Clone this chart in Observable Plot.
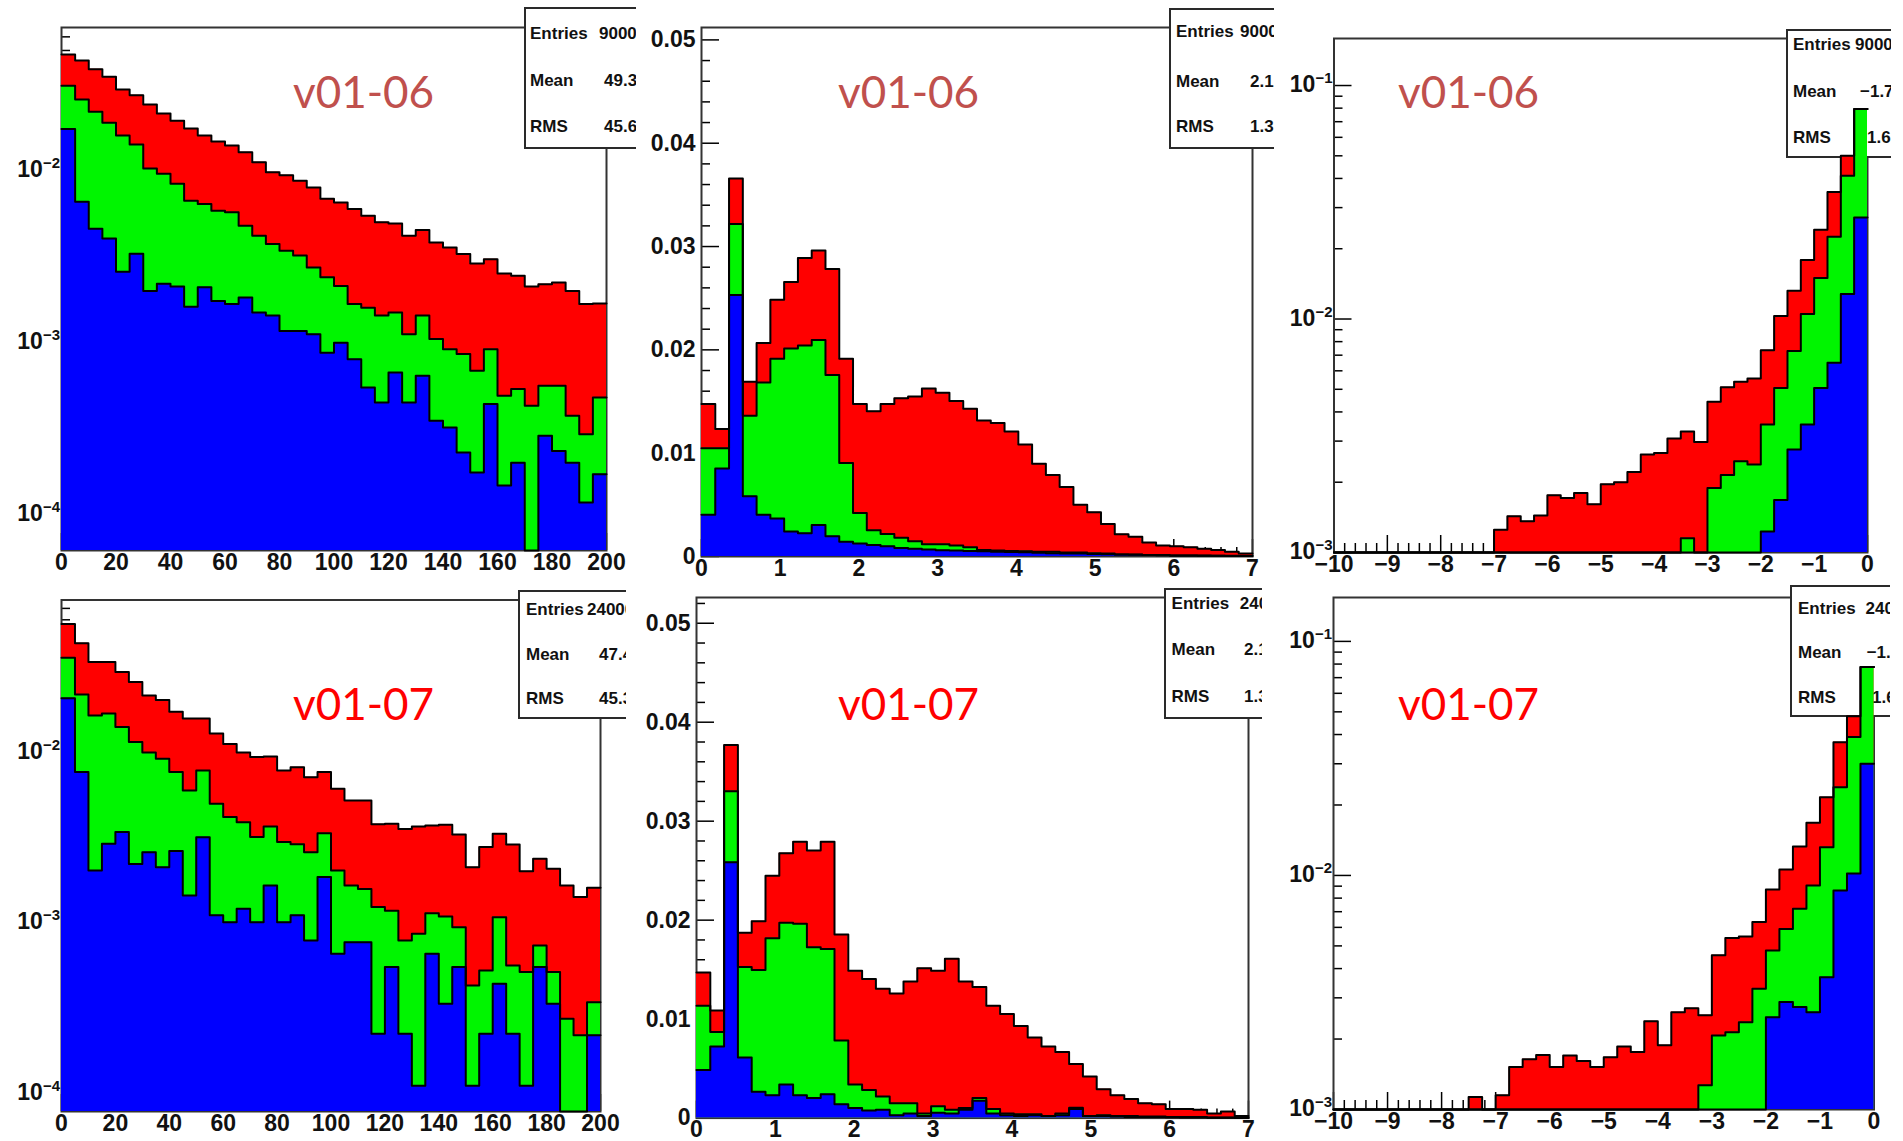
<!DOCTYPE html>
<html><head><meta charset="utf-8">
<script src="https://cdn.jsdelivr.net/npm/d3@7"></script>
<script src="https://cdn.jsdelivr.net/npm/@observablehq/plot@0.6"></script>
<style>
html,body{margin:0;padding:0;background:#fff;}
#root{position:relative;width:1903px;height:1141px;overflow:hidden;background:#fff;}
</style></head><body><div id="root"></div>
<script>
// ---------------- DATA (stack top levels: red = total, green = blue+green, blue) ----------------
// Panel 1: v01-06, x 0..200, 40 bins, log y
const p1Red = [0.0474,0.0437,0.0389,0.0352,0.0297,0.0275,0.0243,0.0215,0.0195,0.0176,
  0.016,0.0148,0.014,0.0128,0.0112,0.0098,0.0094,0.00875,0.008,0.00688,
  0.00654,0.00599,0.00547,0.00501,0.00494,0.00419,0.00452,0.00383,0.00358,0.00328,
  0.00289,0.00306,0.00253,0.00245,0.00212,0.00219,0.00224,0.002,0.00168,0.00169];
const p1Green = [0.0312,0.0259,0.022,0.019,0.016,0.0142,0.0103,0.0096,0.0084,0.0067,
  0.0064,0.00585,0.00573,0.00478,0.00419,0.00375,0.00343,0.00321,0.00274,0.0024,
  0.00214,0.00168,0.0016,0.00144,0.0015,0.00112,0.00144,0.00105,0.000918,0.000859,
  0.000687,0.000918,0.000492,0.000538,0.00043,0.000562,0.000562,0.000377,0.000294,0.000481];
const p1Blue = [0.0175,0.0066,0.0046,0.00403,0.00259,0.00329,0.002,0.0022,0.00212,0.00162,
  0.0021,0.00175,0.00168,0.00183,0.0015,0.00144,0.00117,0.00117,0.00112,0.000875,
  0.001,0.000803,0.00055,0.00045,0.000672,0.00045,0.000643,0.000352,0.000322,0.00023,
  0.000176,0.00044,0.000148,0.000201,0,0.000288,0.000235,0.000201,0.000118,0.000172];

// Panel 2: v01-06, x 0..7, 40 bins, linear y
const p2Red = [0.01477,0.01234,0.03659,0.01692,0.02067,0.02486,0.02657,0.0289,0.02961,0.02783,
  0.01913,0.01477,0.01406,0.01477,0.01531,0.01549,0.01627,0.01584,0.01506,0.01431,
  0.01316,0.01291,0.01209,0.01084,0.00898,0.0079,0.00672,0.00501,0.00429,0.00315,
  0.00215,0.0019,0.00136,0.00107,0.001,0.00089,0.00075,0.00064,0.00046,0.00029];
const p2Green = [0.01048,0.01048,0.03219,0.01363,0.01685,0.01913,0.02014,0.02042,0.02096,0.01756,
  0.00905,0.00422,0.00254,0.00218,0.00182,0.00147,0.00118,0.00118,0.00107,0.00089,
  0.00064,0.00057,0.00054,0.0005,0.00046,0.00046,0.00039,0.00039,0.00032,0.00029,
  0.0002,0.0002,0.00015,0.00015,0.0001,0.0001,0.0001,0.00008,0.00008,0.00005];
const p2Blue = [0.00404,0.00851,0.02532,0.00583,0.00404,0.00368,0.00243,0.00225,0.00304,0.00197,
  0.00143,0.00125,0.00111,0.001,0.00082,0.00075,0.00068,0.00061,0.00057,0.00054,
  0.0005,0.00046,0.00043,0.0004,0.00036,0.00032,0.0003,0.00028,0.00025,0.00022,
  0.0002,0.00018,0.00015,0.00013,0.0001,0.0001,0.00008,0.00007,0.00005,0.00004];

// Panel 3: v01-06, x -10..0, 40 bins, log y
const p3Red = [0,0,0,0,0,0,0,0,0,0,0,0,
  0.00125,0.00143,0.00136,0.00144,0.00176,0.00171,0.0018,0.00161,0.00196,0.002,
  0.00221,0.00263,0.00267,0.00308,0.0033,0.00297,0.00442,0.0051,0.00538,0.00556,
  0.00734,0.0103,0.0132,0.0179,0.0241,0.035,0.05,0.0794];
const p3Green = [0,0,0,0,0,0,0,0,0,0,0,0,0,0,0,0,0,0,0,0,0,0,0,0,0,0,
  0.00115,0,0.00189,0.00215,0.00246,0.00238,0.00353,0.00507,0.0073,0.0105,0.015,0.0225,0.0411,0.0794];
const p3Blue = [0,0,0,0,0,0,0,0,0,0,0,0,0,0,0,0,0,0,0,0,0,0,0,0,0,0,0,0,0,0,0,0,
  0.00123,0.00168,0.00276,0.00353,0.00507,0.00649,0.0128,0.0272];

// Panel 4: v01-07, x 0..200, log y
const p4Red = [0.0566,0.0437,0.0339,0.0339,0.0296,0.0259,0.0216,0.0203,0.0173,0.0158,
  0.0158,0.0129,0.0112,0.01,0.00939,0.00948,0.00784,0.0082,0.00716,0.00767,
  0.00612,0.00523,0.00523,0.00379,0.00382,0.00356,0.00368,0.00373,0.00377,0.0033,
  0.00212,0.00279,0.00334,0.00288,0.00201,0.00238,0.00208,0.00166,0.00142,0.00161];
const p4Green = [0.0359,0.0219,0.0165,0.0169,0.0141,0.0115,0.01,0.00918,0.00767,0.00599,
  0.00784,0.005,0.00418,0.0039,0.00319,0.00368,0.00298,0.00289,0.0026,0.00336,
  0.00203,0.00166,0.00158,0.00124,0.00118,0.000789,0.000864,0.00114,0.00109,0.000944,
  0.00043,0.000526,0.00108,0.000563,0.000515,0.000738,0.000515,0.000274,0.000219,0.000343];
const p4Blue = [0.0208,0.00767,0.00203,0.00291,0.00341,0.00222,0.0026,0.00212,0.00264,0.00145,
  0.00318,0.00111,0.00101,0.00121,0.00101,0.00166,0.00101,0.00111,0.000789,0.00186,
  0.000659,0.000771,0.000771,0.000224,0.000551,0.000224,0.000111,0.000659,0.000336,0.000551,
  0.000111,0.000224,0.00044,0.000224,0.000111,0.000551,0.000336,0,0,0.000219];

// Panel 5: v01-07, x 0..7, linear y
const p5Red = [0.01471,0.01088,0.0377,0.01872,0.01989,0.02449,0.02675,0.02792,0.02704,0.02792,
  0.01854,0.01489,0.01405,0.01307,0.01259,0.0138,0.01515,0.01489,0.0161,0.0138,
  0.01325,0.01135,0.01051,0.00931,0.00814,0.00723,0.00668,0.00547,0.0042,0.00292,
  0.0023,0.00193,0.0015,0.00139,0.00091,0.00091,0.00084,0.00047,0.00066,0.00022];
const p5Green = [0.01135,0.00869,0.03303,0.01526,0.01496,0.01818,0.01974,0.01964,0.01726,0.01708,
  0.00785,0.00339,0.00285,0.00219,0.0015,0.0015,0.00047,0.0012,0.00084,0.00102,
  0.00204,0.00091,0.00047,0.0004,0.0004,0.00022,0.00047,0.00105,0.00022,0.0003,
  0.0002,0.0002,0.00015,0.00015,0.0001,0.0001,0.0001,0.00005,0.00005,0.00003];
const p5Blue = [0.00485,0.00723,0.02584,0.00613,0.00266,0.0023,0.00339,0.0023,0.00204,0.00241,
  0.00139,0.00102,0.00077,0.00084,0.00029,0.00047,0.00022,0.00055,0.00047,0.00084,
  0.00175,0.00047,0.00029,0.00022,0.00029,0.00022,0.00029,0.00091,0.00022,0.0002,
  0.00015,0.0001,0.0001,0.0001,0.00008,0.00005,0.00005,0.00003,0.00003,0.00002];

// Panel 6: v01-07, x -10..0, log y
const p6Red = [0,0,0,0,0,0,0,0,0,0,0.00113,0,
  0.00115,0.00152,0.00164,0.00171,0.00152,0.0017,0.00161,0.00152,0.00167,0.00186,
  0.00176,0.00238,0.00188,0.0026,0.00271,0.00253,0.00456,0.0054,0.00549,0.00632,
  0.00871,0.0106,0.0133,0.0168,0.0216,0.0371,0.0479,0.0777];
const p6Green = [0,0,0,0,0,0,0,0,0,0,0,0,0,0,0,0,0,0,0,0,0,0,0,0,0,0,0,
  0.00127,0.00207,0.00214,0.00236,0.00328,0.00478,0.00591,0.00721,0.00906,0.0132,0.0238,0.039,0.0777];
const p6Blue = [0,0,0,0,0,0,0,0,0,0,0,0,0,0,0,0,0,0,0,0,0,0,0,0,0,0,0,0,0,0,0,0,
  0.00248,0.00288,0.00274,0.0026,0.00367,0.00863,0.0102,0.03];

// Labels / stats text
const versionLabels = ["v01-06", "v01-06", "v01-06", "v01-07", "v01-07", "v01-07"];
const statsNames = ["Entries", "Mean", "RMS"];
const statsValues = [
  ["9000", "49.3", "45.6"],
  ["9000", "2.1", "1.3"],
  ["9000", "\u22121.7", "1.6"],
  ["24000", "47.4", "45.3"],
  ["24000", "2.1", "1.3"],
  ["24000", "\u22121.7", "1.6"]
];
// tick values
const xTicksPt = [0,20,40,60,80,100,120,140,160,180,200];
const xTicksEta = [0,1,2,3,4,5,6,7];
const xTicksLog = [-10,-9,-8,-7,-6,-5,-4,-3,-2,-1,0];
const yTicksLin = [0,0.01,0.02,0.03,0.04,0.05];
const yTicksLog = [1e-4,1e-3,1e-2,1e-1];

// ---------------- LAYOUT ----------------
const COLORS = {red: "#ff0000", green: "#00f500", blue: "#0000ff"};
const panels = [
  {red:p1Red, green:p1Green, blue:p1Blue, xr:[0,200], log:true, yd:[6.2e-5,0.068],
   left:0, top:0, w:636, h:582, ml:61, mt:27, mr:30, mb:32, xt:xTicksPt, xMinorStep:5,
   box:{x:525,y:8,h:140,lx:530,cy:[33,80,126],vx:[599,604,604]}, title:{cx:363,by:107,color:"#c0504d"}},
  {red:p2Red, green:p2Green, blue:p2Blue, xr:[0,7], log:false, yd:[0,0.0512],
   left:636, top:0, w:638, h:582, ml:65, mt:27, mr:22, mb:26, xt:xTicksEta, xMinorStep:0.2,
   box:{x:534,y:9,h:139,lx:540,cy:[31,81,126],vx:[604,614,614]}, title:{cx:272,by:107,color:"#c0504d"}},
  {red:p3Red, green:p3Green, blue:p3Blue, xr:[-10,0], log:true, yd:[1e-3,0.159],
   left:1274, top:0, w:617, h:582, ml:59.5, mt:38, mr:24, mb:30, xt:xTicksLog, xMinorStep:0.2,
   box:{x:513,y:30,h:127,lx:519,cy:[44,91,137],vx:[581,586,593]}, title:{cx:194,by:107,color:"#c0504d"}},
  {red:p4Red, green:p4Green, blue:p4Blue, xr:[0,200], log:true, yd:[7.83e-5,0.0784],
   left:0, top:582, w:626, h:559, ml:61, mt:17.5, mr:26, mb:30, xt:xTicksPt, xMinorStep:5,
   box:{x:519,y:9,h:127,lx:526,cy:[27,72,116],vx:[587,599,599]}, title:{cx:363,by:137,color:"#ff0000"}},
  {red:p5Red, green:p5Green, blue:p5Blue, xr:[0,7], log:false, yd:[0,0.0526],
   left:626, top:582, w:636, h:559, ml:70, mt:15, mr:14, mb:23.4, xt:xTicksEta, xMinorStep:0.2,
   box:{x:539,y:7,h:129,lx:545.6,cy:[21,67,114],vx:[613.8,618,618]}, title:{cx:282,by:137,color:"#ff0000"}},
  {red:p6Red, green:p6Green, blue:p6Blue, xr:[-10,0], log:true, yd:[1e-3,0.154],
   left:1262, top:582, w:628, h:559, ml:71, mt:15, mr:16.5, mb:32, xt:xTicksLog, xMinorStep:0.2,
   box:{x:529,y:4,h:130,lx:536,cy:[25.5,70,115],vx:[603.5,604.7,610]}, title:{cx:206,by:137,color:"#ff0000"}}
];

function linFmt(d) { return d === 0 ? "0" : d.toFixed(2); }
function xFmt(d) { return d < 0 ? "\u2212" + (-d) : String(d); }

function stepData(values, xr, floor) {
  const n = values.length, w = (xr[1] - xr[0]) / n;
  const pts = values.map((v, i) => ({x: xr[0] + i * w, y: Math.max(v, floor)}));
  pts.push({x: xr[1], y: Math.max(values[n - 1], floor)});
  return pts;
}

const FONT = "'Liberation Sans', Arial, Helvetica, sans-serif";
const TICKFS = 23;
const root = document.getElementById("root");

panels.forEach((p, idx) => {
  const innerW = p.w - p.ml - p.mr;
  const innerH = p.h - p.mt - p.mb;
  const floor = p.yd[0];
  const inY = v => v >= p.yd[0] - 1e-12 && v <= p.yd[1] + 1e-12;

  // y ticks
  let yMajor, yMinor = [];
  if (p.log) {
    yMajor = yTicksLog.filter(inY);
    for (let k = -5; k <= 0; k++) for (let m = 2; m <= 9; m++) {
      const v = m * Math.pow(10, k);
      if (inY(v)) yMinor.push(v);
    }
  } else {
    yMajor = yTicksLin.filter(inY);
    for (let i = 0; i <= 30; i++) {
      const v = +(i * 0.002).toFixed(4);
      if (inY(v) && Math.abs(v / 0.01 - Math.round(v / 0.01)) > 1e-6) yMinor.push(v);
    }
  }
  // x ticks
  const xMajor = p.xt;
  const xMinor = [];
  const nMinor = Math.round((p.xr[1] - p.xr[0]) / p.xMinorStep);
  for (let i = 0; i <= nMinor; i++) {
    const v = +(p.xr[0] + i * p.xMinorStep).toFixed(4);
    if (!xMajor.some(m => Math.abs(m - v) < 1e-6)) xMinor.push(v);
  }

  const redD = stepData(p.red, p.xr, floor);
  const greenD = stepData(p.green, p.xr, floor);
  const blueD = stepData(p.blue, p.xr, floor);

  const b = p.box;
  const statsMark = () => {
    const g = d3.create("svg:g").attr("text-anchor", "start");
    g.append("rect").attr("x", b.x).attr("y", b.y).attr("width", 260).attr("height", b.h)
      .attr("fill", "#fff").attr("stroke", "#2a2a2a").attr("stroke-width", 2);
    statsNames.forEach((name, i) => {
      g.append("text").attr("x", b.lx).attr("y", b.cy[i]).attr("dy", "0.36em")
        .attr("font-family", FONT).attr("font-weight", "bold").attr("font-size", 17)
        .attr("fill", "#111").text(name);
      g.append("text").attr("x", b.vx[i]).attr("y", b.cy[i]).attr("dy", "0.36em")
        .attr("font-family", FONT).attr("font-weight", "bold").attr("font-size", 17)
        .attr("fill", "#111").text(statsValues[idx][i]);
    });
    return g.node();
  };

  // y tick labels: log panels use "10" with a real superscript exponent
  const yLabelMark = p.log
    ? (index, scales, values, dims) => {
        const g = d3.create("svg:g").attr("text-anchor", "end").attr("font-family", FONT)
          .attr("font-weight", "bold").attr("fill", "#111");
        yMajor.forEach(v => {
          const e = Math.round(Math.log10(v));
          const t = g.append("text").attr("x", dims.marginLeft - 1).attr("y", scales.y(v) + 7)
            .attr("font-size", TICKFS);
          t.append("tspan").text("10");
          t.append("tspan").attr("font-size", 15).attr("dy", -9).text("\u2212" + (-e));
        });
        return g.node();
      }
    : Plot.axisY(yMajor, {tickSize: 0, tickPadding: 6, tickFormat: linFmt,
        fontSize: TICKFS, fontWeight: "bold", fontFamily: FONT, fill: "#111", label: null});

  const yScale = {type: p.log ? "log" : "linear", domain: p.yd, clamp: true};
  if (p.log) yScale.axis = null;

  const svg = Plot.plot({
    width: p.w, height: p.h,
    marginLeft: p.ml, marginTop: p.mt, marginRight: p.mr, marginBottom: p.mb,
    x: {domain: p.xr},
    y: yScale,
    style: {position: "absolute", left: p.left + "px", top: p.top + "px", overflow: "hidden", background: "#fff"},
    marks: [
      Plot.tickY(yMinor, {y: d => d, insetRight: innerW - 9, stroke: "#000", strokeWidth: 1.5}),
      Plot.tickY(yMajor, {y: d => d, insetRight: innerW - 18, stroke: "#000", strokeWidth: 1.5}),
      Plot.tickX(xMinor, {x: d => d, insetTop: innerH - 9, stroke: "#000", strokeWidth: 1.5}),
      Plot.tickX(xMajor, {x: d => d, insetTop: innerH - 17, stroke: "#000", strokeWidth: 1.5}),
      Plot.frame({stroke: "#333", strokeWidth: 2}),
      statsMark,
      Plot.areaY(redD, {x: "x", y1: floor, y2: "y", curve: "step-after", fill: COLORS.red}),
      Plot.areaY(greenD, {x: "x", y1: floor, y2: "y", curve: "step-after", fill: COLORS.green}),
      Plot.areaY(blueD, {x: "x", y1: floor, y2: "y", curve: "step-after", fill: COLORS.blue}),
      Plot.line(redD, {x: "x", y: "y", curve: "step-after", stroke: "#000", strokeWidth: 2}),
      Plot.line(greenD, {x: "x", y: "y", curve: "step-after", stroke: "#000", strokeWidth: 2}),
      Plot.line(blueD, {x: "x", y: "y", curve: "step-after", stroke: "#000", strokeWidth: 2}),
      yLabelMark,
      Plot.axisX(xMajor, {tickSize: 0, tickPadding: 3, tickFormat: xFmt,
        fontSize: TICKFS, fontWeight: "bold", fontFamily: FONT, fill: "#111", label: null}),
      Plot.text([versionLabels[idx]], {text: d => d, frameAnchor: "top-left",
        dx: p.title.cx - p.ml, dy: p.title.by - p.mt, textAnchor: "middle", lineAnchor: "bottom",
        fontSize: 44, fontFamily: "Lato, 'Open Sans', sans-serif", fill: p.title.color})
    ]
  });
  root.appendChild(svg);
});
</script>
</body></html>
